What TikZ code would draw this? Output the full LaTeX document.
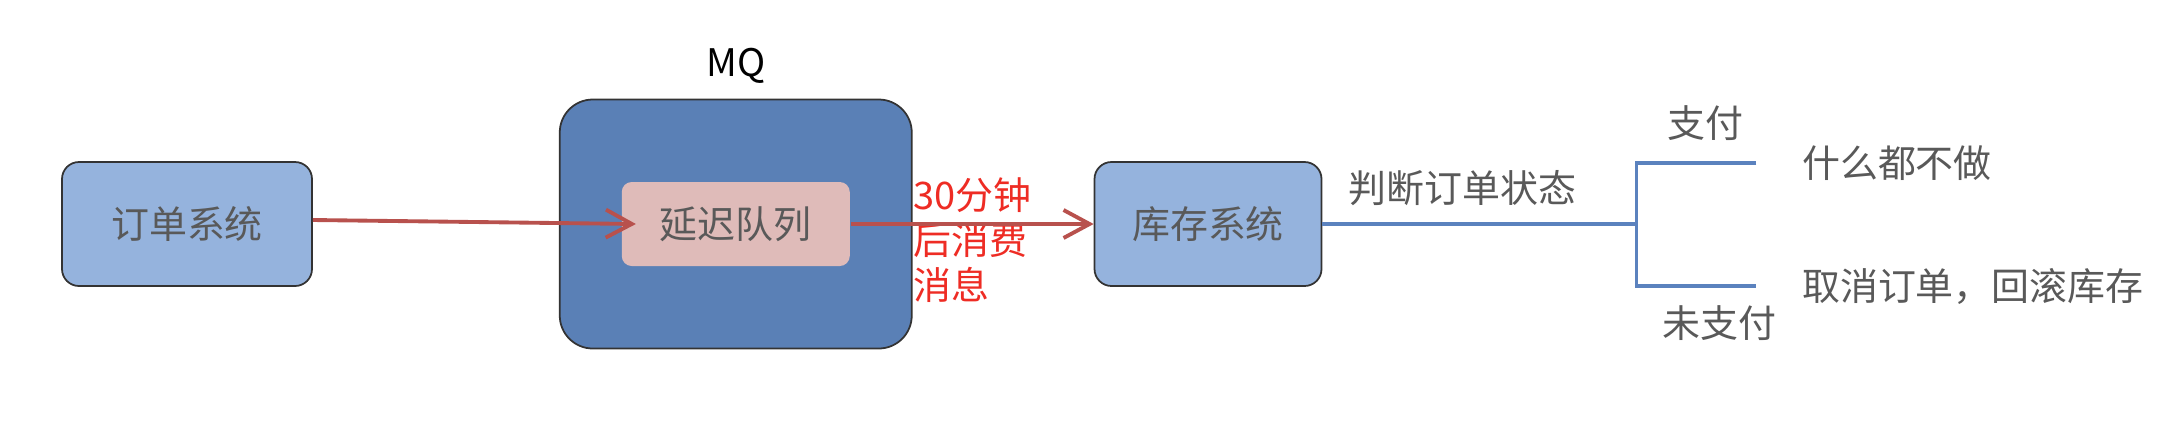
\documentclass[tikz,border=0pt]{standalone}
\usepackage{fontspec}
\setmainfont{Noto Sans CJK SC}
\usepackage{xcolor}
\usepackage{tikz}
\usetikzlibrary{arrows.meta,positioning}
\definecolor{boxblue}{HTML}{95B3DD}
\definecolor{mqblue}{HTML}{5A80B6}
\definecolor{queuepink}{HTML}{DFBBB9}
\definecolor{arrowred}{HTML}{B8514D}
\definecolor{delayred}{HTML}{EE2C24}
\definecolor{branchblue}{HTML}{5B82BE}
\definecolor{textgray}{HTML}{595959}
\definecolor{edgegray}{HTML}{333333}
\newcommand{\cn}{\fontsize{10.8pt}{12.8pt}\selectfont}
\tikzset{
  msgflow/.style={-{Straight Barb[length=2.6mm,width=2.8mm]}, line width=1.1pt, draw=arrowred},
  branch/.style={line width=1pt, draw=branchblue},
  box/.style={rounded corners=1.7mm, draw=edgegray, line width=0.5pt, align=center,
              font=\cn, text=textgray},
  sysbox/.style={box, fill=boxblue, minimum height=12.4mm},
  mqbox/.style={box, rounded corners=3.3mm, fill=mqblue, minimum width=35.2mm, minimum height=24.9mm},
  queuebox/.style={box, rounded corners=1mm, draw=none, fill=queuepink, minimum width=22.8mm,
                   minimum height=8.4mm},
  note/.style={font=\cn, text=textgray, inner sep=0pt},
  delaylabel/.style={font=\cn, text=delayred, align=left, inner sep=0pt}
}

\begin{document}
\begin{tikzpicture}[x=0.1mm, y=-0.1mm, node distance=18mm]
  \useasboundingbox (0,0) rectangle (2166,432);

  \node[sysbox, minimum width=25mm] (order) at (187,224) {订单系统};
  \node[mqbox, right=24.6mm of order] (mq) {};
  \node[queuebox] (queue) at (mq.center) {延迟队列};
  \node[note, text=black, above=2.2mm of mq, anchor=base] (mqlabel) {MQ};
  \node[sysbox, right=18.1mm of mq, minimum width=22.7mm] (stock) {库存系统};
  \node[delaylabel, anchor=west] (delay) at ([yshift=-1.65mm]mq.east) {30分钟\\后消费\\消息};

  \coordinate[right=31.4mm of stock] (fork);
  \coordinate[above=6.1mm of fork] (forkup);
  \coordinate[below=6.2mm of fork] (forkdown);
  \coordinate[right=12mm of forkup] (payend);
  \coordinate[right=12mm of forkdown] (unpayend);

  \node[note, right=4.5mm of payend] (donothing) {什么都不做};
  \node[note, right=4.5mm of unpayend] (rollback) {取消订单，回滚库存};

  \draw[msgflow] ([yshift=0.4mm]order.east) -- ([xshift=1.5mm]queue.west);
  \draw[msgflow] (queue.east) -- (stock.west);
  \draw[branch] (stock.east) -- node[note, pos=0.445, yshift=3.6mm] (check) {判断订单状态} (fork);
  \draw[branch] (payend) -- node[note, pos=0.425, yshift=4mm] (paid) {支付} (forkup)
    -- (forkdown) -- node[note, pos=0.69, yshift=-3.7mm] (unpaid) {未支付} (unpayend);
\end{tikzpicture}
\end{document}
